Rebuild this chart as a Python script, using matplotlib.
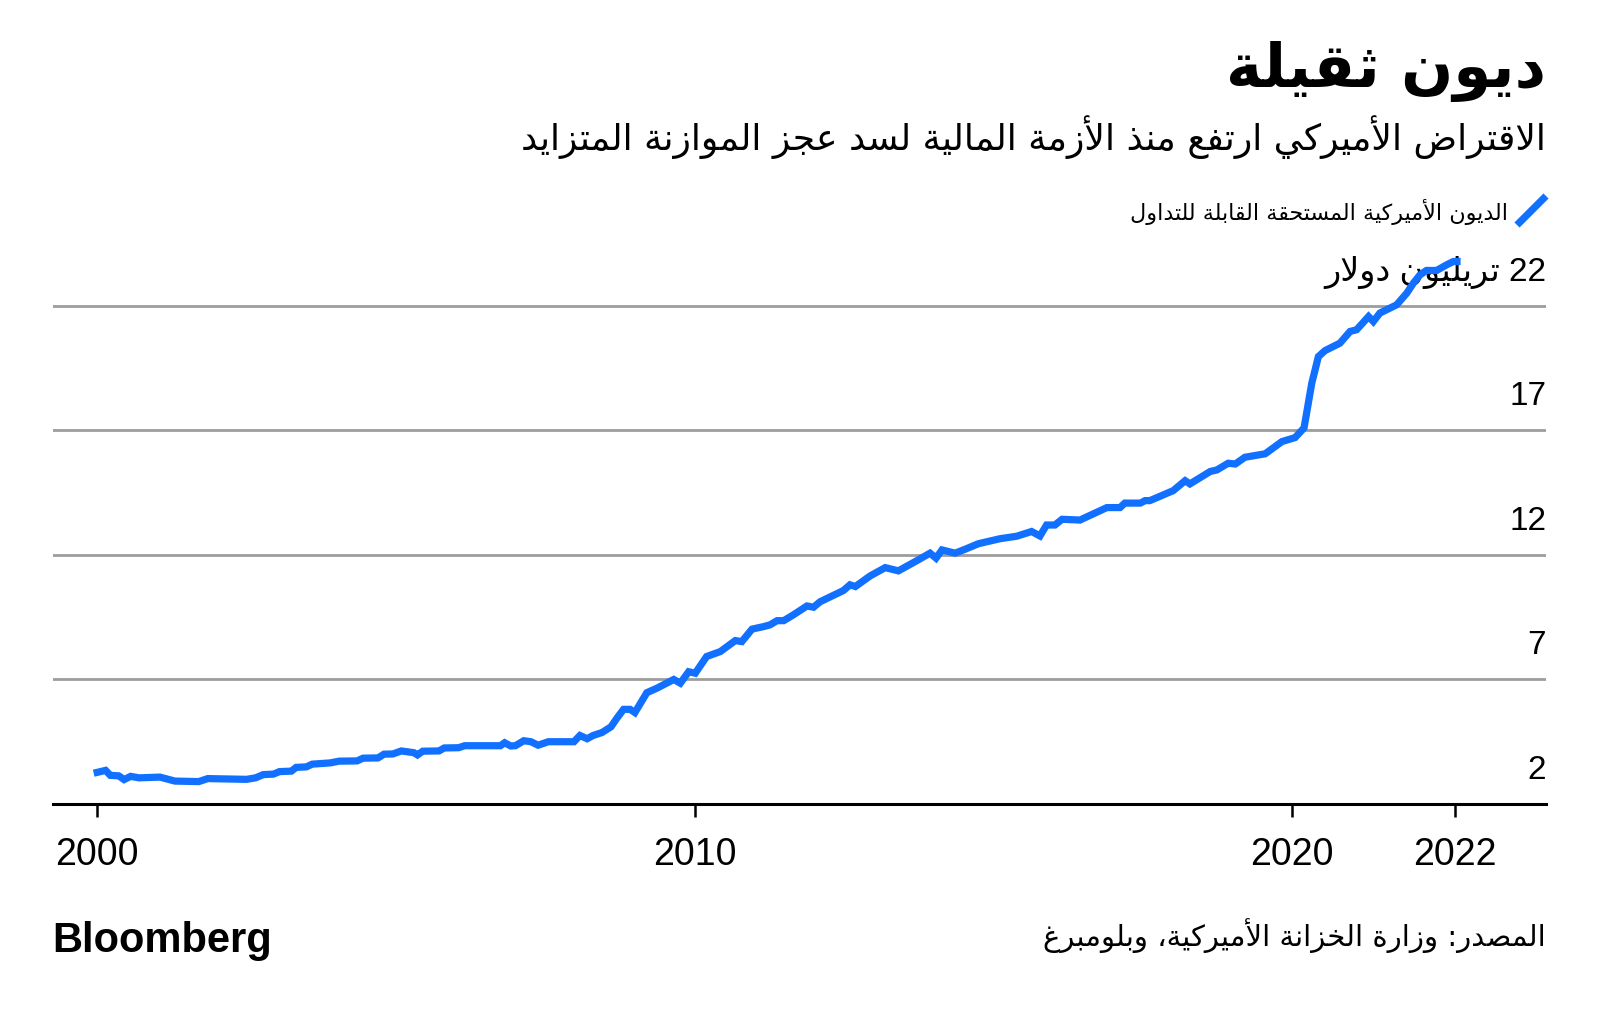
import re
import numpy as np
import matplotlib
matplotlib.use("Agg")
import matplotlib.pyplot as plt
from matplotlib.lines import Line2D
import matplotlib.transforms as mtransforms

# Texts
TITLE = "ديون ثقيلة"
SUBTITLE = "الاقتراض الأميركي ارتفع منذ الأزمة المالية لسد عجز الموازنة المتزايد"
LEGEND_LABEL = "الديون الأميركية المستحقة القابلة للتداول"
UNIT_LABEL = "تريليون دولار"
SOURCE = "المصدر: وزارة الخزانة الأميركية، وبلومبرغ"
LOGO = "Bloomberg"

# Marketable US debt, trillion dollars
YEARS = [
    2000.00, 2000.14, 2000.22, 2000.36, 2000.45, 2000.56, 2000.70, 2001.05, 2001.30, 2001.70,
    2001.85, 2002.50, 2002.65, 2002.78, 2002.95, 2003.05, 2003.25, 2003.33, 2003.50, 2003.60,
    2003.90, 2004.05, 2004.35, 2004.45, 2004.70, 2004.80, 2004.95, 2005.09, 2005.30, 2005.36,
    2005.45, 2005.72, 2005.81, 2006.05, 2006.15, 2006.75, 2006.82, 2006.92, 2007.00, 2007.14,
    2007.26, 2007.38, 2007.55, 2007.98, 2008.08, 2008.20, 2008.30, 2008.45, 2008.60, 2008.70,
    2008.81, 2008.92, 2009.00, 2009.20, 2009.37, 2009.65, 2009.76, 2009.90, 2010.01, 2010.20,
    2010.43, 2010.68, 2010.79, 2010.96, 2011.15, 2011.26, 2011.38, 2011.49, 2011.65, 2011.88,
    2011.99, 2012.10, 2012.49, 2012.60, 2012.69, 2012.94, 2013.19, 2013.41, 2013.66, 2013.94,
    2014.04, 2014.14, 2014.36, 2014.53, 2014.75, 2015.11, 2015.39, 2015.64, 2015.78, 2015.89,
    2016.03, 2016.15, 2016.45, 2016.90, 2017.12, 2017.20, 2017.46, 2017.54, 2017.62, 2018.01,
    2018.21, 2018.29, 2018.63, 2018.74, 2018.93, 2019.05, 2019.21, 2019.55, 2019.83, 2020.05,
    2020.20, 2020.28, 2020.33, 2020.44, 2020.55, 2020.69, 2020.80, 2020.97, 2021.08, 2021.28,
    2021.36, 2021.47, 2021.58, 2021.75, 2021.92, 2022.03, 2022.14, 2022.25, 2022.42, 2022.59,
    2022.70, 2022.76,
]
DEBT = [
    3.27, 3.35, 3.15, 3.13, 2.98, 3.11, 3.05, 3.08, 2.92, 2.90,
    3.02, 2.99, 3.05, 3.18, 3.20, 3.30, 3.32, 3.47, 3.49, 3.60,
    3.65, 3.72, 3.73, 3.84, 3.85, 4.00, 4.01, 4.13, 4.06, 3.97,
    4.12, 4.13, 4.25, 4.26, 4.34, 4.34, 4.46, 4.33, 4.34, 4.54,
    4.50, 4.36, 4.50, 4.50, 4.75, 4.62, 4.75, 4.87, 5.10, 5.45,
    5.80, 5.80, 5.67, 6.47, 6.65, 7.00, 6.85, 7.31, 7.25, 7.92,
    8.12, 8.56, 8.52, 9.02, 9.12, 9.19, 9.36, 9.36, 9.59, 9.95,
    9.90, 10.12, 10.57, 10.80, 10.73, 11.16, 11.49, 11.36, 11.69, 12.07,
    11.87, 12.20, 12.07, 12.23, 12.45, 12.65, 12.75, 12.94, 12.76, 13.20,
    13.20, 13.43, 13.40, 13.90, 13.90, 14.08, 14.08, 14.18, 14.18, 14.58,
    14.98, 14.85, 15.35, 15.41, 15.68, 15.65, 15.92, 16.06, 16.55, 16.71,
    17.10, 18.20, 18.90, 19.96, 20.20, 20.37, 20.50, 20.97, 21.04, 21.57,
    21.37, 21.71, 21.84, 22.04, 22.51, 22.91, 23.24, 23.42, 23.42, 23.65,
    23.78, 23.78,
]

Y_TICKS = [2, 7, 12, 17, 22]
X_TICKS = [2000, 2010, 2020, 2022.73]
X_TICK_LABELS = ["2000", "2010", "2020", "2022"]

BLUE = "#1170ff"
GRID = "#9d9d9d"
W, H = 1600, 1021

# Arabic shaping: first presentation form and number of forms per letter
FORMS = {
    'ء': (0xFE80, 1), 'آ': (0xFE81, 2), 'أ': (0xFE83, 2), 'ؤ': (0xFE85, 2), 'إ': (0xFE87, 2),
    'ئ': (0xFE89, 4), 'ا': (0xFE8D, 2), 'ب': (0xFE8F, 4), 'ة': (0xFE93, 2), 'ت': (0xFE95, 4),
    'ث': (0xFE99, 4), 'ج': (0xFE9D, 4), 'ح': (0xFEA1, 4), 'خ': (0xFEA5, 4), 'د': (0xFEA9, 2),
    'ذ': (0xFEAB, 2), 'ر': (0xFEAD, 2), 'ز': (0xFEAF, 2), 'س': (0xFEB1, 4), 'ش': (0xFEB5, 4),
    'ص': (0xFEB9, 4), 'ض': (0xFEBD, 4), 'ط': (0xFEC1, 4), 'ظ': (0xFEC5, 4), 'ع': (0xFEC9, 4),
    'غ': (0xFECD, 4), 'ف': (0xFED1, 4), 'ق': (0xFED5, 4), 'ك': (0xFED9, 4), 'ل': (0xFEDD, 4),
    'م': (0xFEE1, 4), 'ن': (0xFEE5, 4), 'ه': (0xFEE9, 4), 'و': (0xFEED, 2), 'ى': (0xFEEF, 2),
    'ي': (0xFEF1, 4),
}
LAM_ALEF = {'آ': 0xFEF5, 'أ': 0xFEF7, 'إ': 0xFEF9, 'ا': 0xFEFB}


def shape(text):
    units = []
    i = 0
    while i < len(text):
        if text[i] == 'ل' and i + 1 < len(text) and text[i + 1] in LAM_ALEF:
            units.append(('LA', text[i + 1]))
            i += 2
        else:
            units.append((text[i], None))
            i += 1

    out = []
    for k, (ch, alef) in enumerate(units):
        prev = units[k - 1][0] if k > 0 else None
        nxt = units[k + 1][0] if k + 1 < len(units) else None
        before = prev in FORMS and FORMS[prev][1] == 4
        after = nxt in FORMS or nxt == 'LA'
        if ch == 'LA':
            out.append(chr(LAM_ALEF[alef] + int(before)))
        elif ch in FORMS:
            base, n = FORMS[ch]
            if n == 1:
                out.append(chr(base))
            elif n == 2:
                out.append(chr(base + int(before)))
            else:
                if before and after:
                    out.append(chr(base + 3))
                elif before:
                    out.append(chr(base + 1))
                elif after:
                    out.append(chr(base + 2))
                else:
                    out.append(chr(base))
        else:
            out.append(ch)
    return ''.join(out)


def rtl(text):
    s = shape(text)[::-1]
    return re.sub(r'[0-9A-Za-z.]+', lambda m: m.group(0)[::-1], s)


def fx(x):
    return x / W


def fy(y):
    return 1 - y / H


def main():
    plt.rcParams['font.family'] = ['Liberation Sans', 'DejaVu Sans']
    arabic = ['DejaVu Sans']

    fig = plt.figure(figsize=(W / 100, H / 100), dpi=100)
    ax = fig.add_axes([fx(53), fy(804), fx(1546) - fx(53), fy(256) - fy(804)])

    ax.plot(YEARS, DEBT, color=BLUE, linewidth=5.2, solid_joinstyle='miter',
            zorder=4, clip_on=False)

    ax.set_xlim(1999.26, 2024.25)
    ax.set_ylim(2, 24)

    for v in Y_TICKS[1:]:
        ax.axhline(v, color=GRID, linewidth=2.0, zorder=1)

    trans = mtransforms.blended_transform_factory(ax.transAxes, ax.transData)
    for v in Y_TICKS:
        label = str(v)
        if v == Y_TICKS[-1]:
            label = rtl(f"{v} {UNIT_LABEL}")
        ax.text(1.0, v + 1.35, label, transform=trans, ha='right', va='center',
                fontsize=24, color='black', zorder=2,
                family=['Liberation Sans', 'DejaVu Sans'])

    for side in ['left', 'right', 'top']:
        ax.spines[side].set_visible(False)
    ax.spines['bottom'].set_linewidth(2.2)
    ax.spines['bottom'].set_color('black')
    ax.spines['bottom'].set_zorder(5)

    ax.set_yticks([])
    ax.set_xticks(X_TICKS)
    ax.set_xticklabels(X_TICK_LABELS)
    ax.tick_params(axis='x', direction='out', length=9, width=1.8, color='black',
                   labelsize=27, pad=15)

    # title block
    fig.text(fx(1546), fy(72), rtl(TITLE), ha='right', va='center', fontsize=44,
             fontweight='bold', family=arabic)
    fig.text(fx(1546), fy(137), rtl(SUBTITLE), ha='right', va='center', fontsize=26,
             family=arabic)

    # legend
    fig.add_artist(Line2D([fx(1517), fx(1546)], [fy(225), fy(196)], color=BLUE,
                          linewidth=5.2, solid_capstyle='butt'))
    fig.text(fx(1508), fy(212), rtl(LEGEND_LABEL), ha='right', va='center', fontsize=16,
             family=arabic)

    # footer
    fig.text(fx(52), fy(941), LOGO, ha='left', va='center', fontsize=30,
             fontweight='bold', family=['Liberation Sans'])
    fig.text(fx(1546), fy(936), rtl(SOURCE), ha='right', va='center', fontsize=21,
             family=arabic)

    fig.savefig("out.png", dpi=100, facecolor='white')


if __name__ == "__main__":
    main()
